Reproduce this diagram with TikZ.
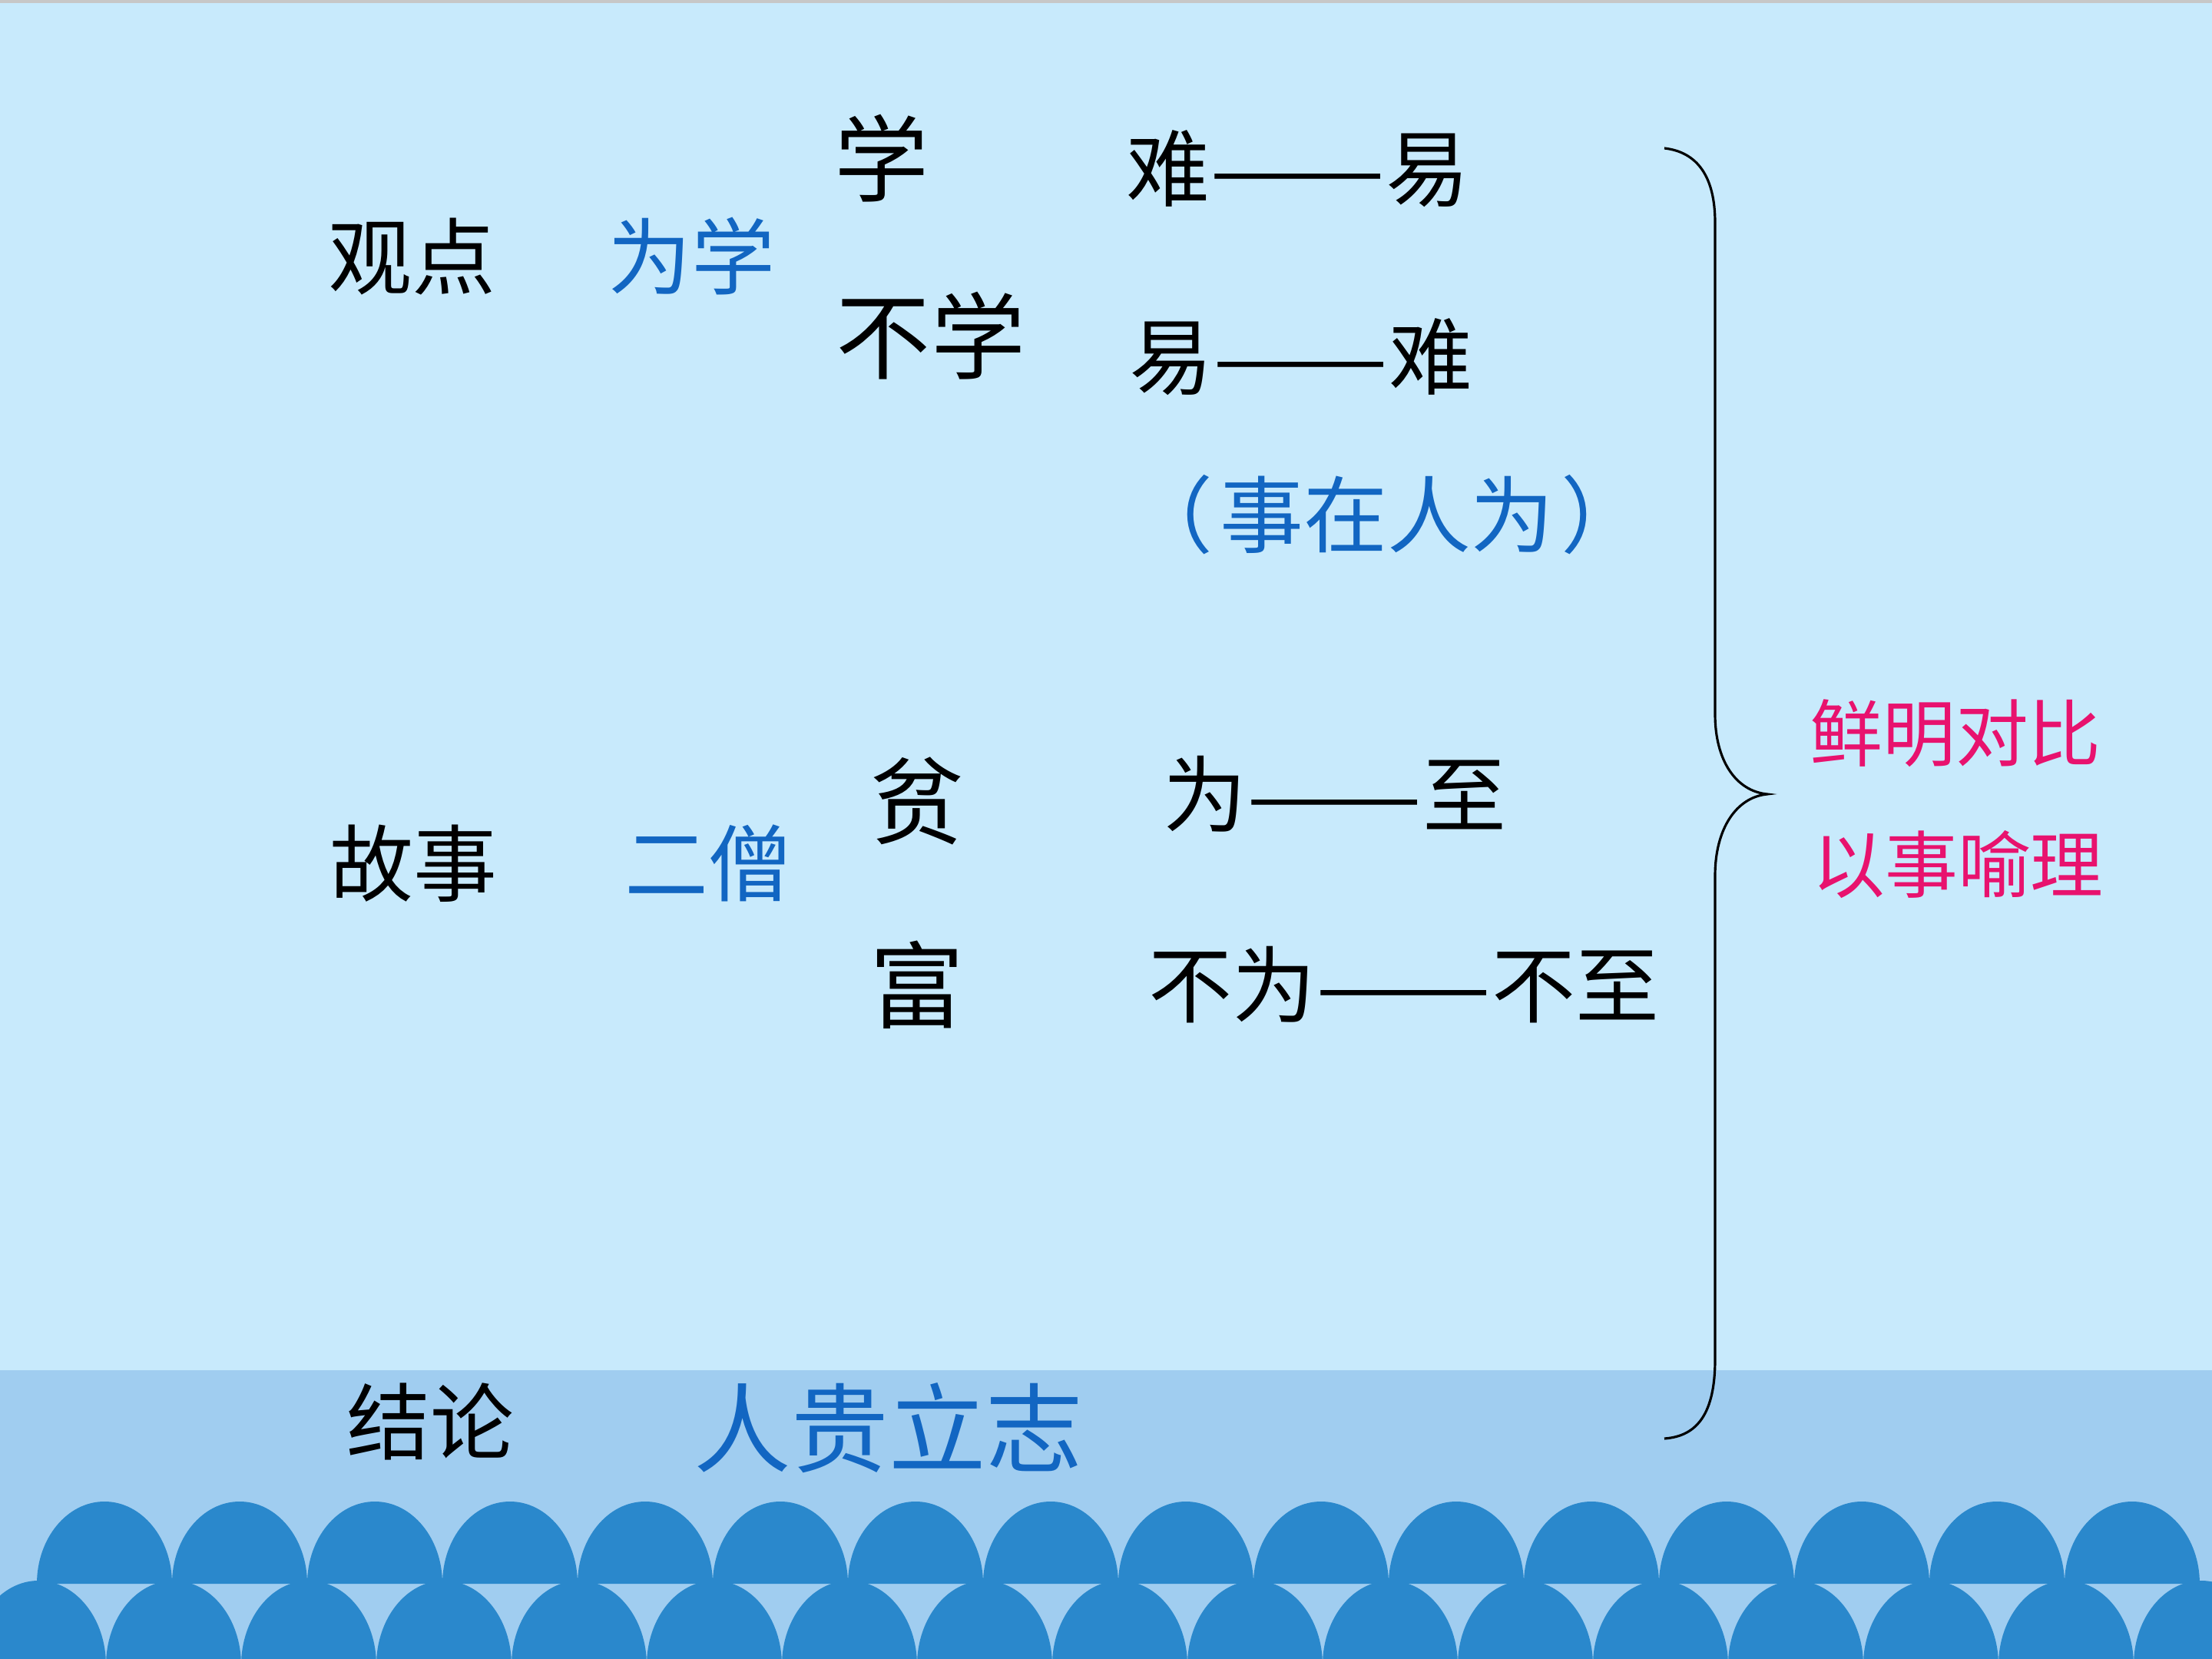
\documentclass[tikz,border=0pt]{standalone}
\usepackage{fontspec}
\usepackage{graphicx}
\newfontfamily\cjk{Noto Sans CJK SC}
\usetikzlibrary{positioning}
\definecolor{sky}{RGB}{200,234,252}
\definecolor{shore}{RGB}{160,205,240}
\definecolor{wave}{RGB}{42,136,204}
\definecolor{keyblue}{RGB}{18,102,194}
\definecolor{rose}{RGB}{232,18,110}
\newcommand\longdash{\scalebox{1.25}[1]{——}}
\tikzset{
    word/.style={font=\cjk\fontsize{31}{36}\selectfont, inner sep=0pt},
    bigword/.style={word, font=\cjk\fontsize{35}{40}\selectfont},
    key/.style={word, text=keyblue},
    bigkey/.style={bigword, font=\cjk\fontsize{36}{40}\selectfont, text=keyblue},
    moral/.style={word, font=\cjk\fontsize{27}{32}\selectfont, text=rose},
    brace/.style={line width=0.9pt},
}

\begin{document}
\begin{tikzpicture}

    \useasboundingbox (0,0) rectangle (28.8,-21.6);
    \clip (0,0) rectangle (28.8,-21.6);
    \fill[sky] (0,0) rectangle (28.8,-21.6);
    \fill[black!22] (0,0) rectangle (28.8,-0.04);
    \fill[shore] (0,-17.84) rectangle (28.8,-21.6);
    \foreach \k in {0,...,15}
        \fill[wave] ({1.36+1.76*\k-0.88},-20.62)
            arc[start angle=180, end angle=0, x radius=0.88, y radius=1.07] -- cycle;
    \foreach \k in {0,...,16}
        \fill[wave] ({0.50+1.76*\k-0.88},-21.68)
            arc[start angle=180, end angle=0, x radius=0.88, y radius=1.1] -- cycle;

    \node[word] (view) at (5.36,-3.34) {观点};
    \node[key] (learning) at (9.00,-3.34) {为学};
    \node[bigword] (learn) at (11.48,-2.06) {学};
    \node[bigword] (notlearn) at (12.12,-4.37) {不学};
    \node[word] (hardeasy) at (16.90,-2.20) {难\longdash 易};
    \node[word] (easyhard) at (16.94,-4.65) {易\longdash 难};
    \node[key] (effort) at (18.06,-6.70) {（\kern0.08em 事在人为\kern0.08em ）};

    \node[word] (story) at (5.38,-11.24) {故事};
    \node[key] (monks) at (9.22,-11.24) {二僧};
    \node[bigword] (poor) at (11.94,-10.43) {贫};
    \node[word] (doreach) at (17.38,-10.34) {为\longdash 至};
    \node[bigword] (rich) at (11.94,-12.82) {富};
    \node[word] (notreach) at (18.28,-12.82) {不为\longdash 不至};

    \node[word] (result) at (5.60,-18.51) {结论};
    \node[bigkey] (aim) at (11.57,-18.59) {人贵立志};

    \node[moral] (contrast) at (25.46,-9.55) {鲜明对比};
    \node[moral] (reason) at (25.49,-11.26) {以事喻理};

    \coordinate (btop) at (21.67,-1.93);
    \coordinate (btip) at (23.01,-10.34);
    \coordinate (bbot) at (21.67,-18.73);
    \draw[brace] (btop) .. controls (22.1,-1.98) and (22.33,-2.3) .. (22.33,-2.9)
        -- (22.33,-9.3) .. controls (22.33,-9.9) and (22.6,-10.3) .. (btip)
        .. controls (22.6,-10.38) and (22.33,-10.8) .. (22.33,-11.4)
        -- (22.33,-17.7) .. controls (22.33,-18.4) and (22.1,-18.7) .. (bbot);

\end{tikzpicture}
\end{document}
